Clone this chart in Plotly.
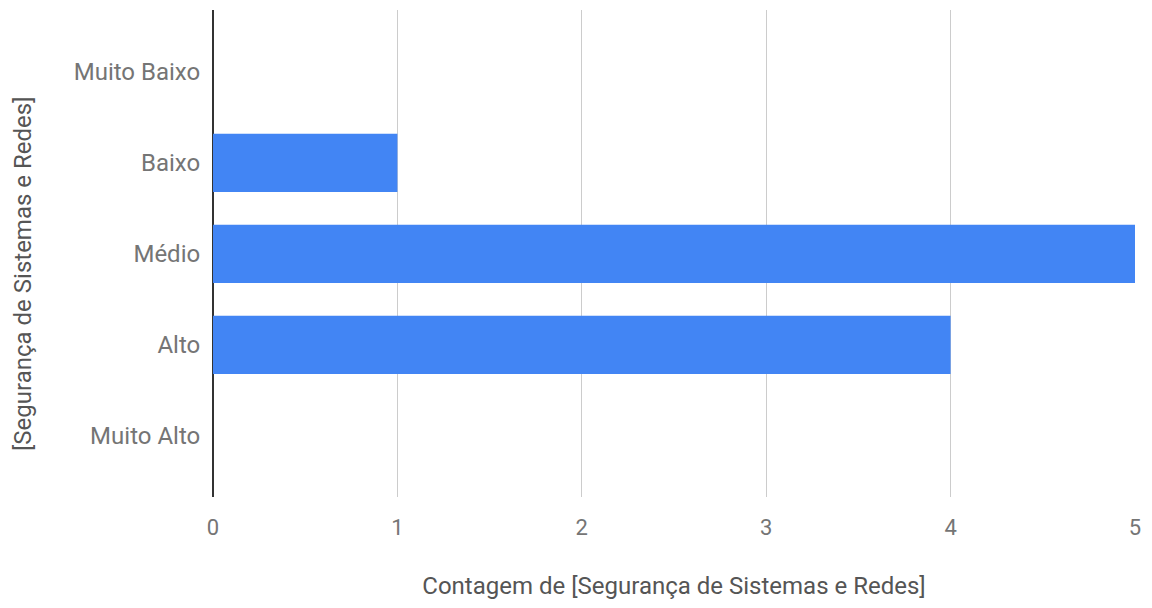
import plotly.graph_objects as go

categories = ["Muito Baixo", "Baixo", "Médio", "Alto", "Muito Alto"]
counts = [0, 1, 5, 4, 0]
x_ticks = [0, 1, 2, 3, 4, 5]

fig = go.Figure(go.Bar(
    y=categories, x=counts, orientation="h",
    marker=dict(color="#4285F4", line=dict(width=0)),
    width=0.64,
))

# plot area in figure coords (page body has 8px margin)
L, R, T, B = 205, 9, 2, 103
W, H = 1136, 592
pw, ph = W - L - R, H - T - B

fig.update_layout(
    width=W, height=H,
    margin=dict(l=L, r=R, t=T, b=B, autoexpand=False),
    paper_bgcolor="white", plot_bgcolor="white",
    font=dict(family="Roboto", color="#757575", size=22),
    showlegend=False,
)
fig.update_xaxes(
    range=[0, 5], tickvals=x_ticks,
    showgrid=True, gridcolor="#cccccc", gridwidth=1,
    zeroline=True, zerolinecolor="#333333", zerolinewidth=1.5,
    ticks="outside", ticklen=11, tickcolor="rgba(0,0,0,0)",
    tickfont=dict(size=22, color="#757575"),
    title=dict(text="Contagem de [Segurança de Sistemas e Redes]",
               font=dict(size=24, color="#555555"), standoff=42),
)
fig.update_yaxes(
    categoryorder="array", categoryarray=categories,
    range=[4.67, -0.68],
    showgrid=False, zeroline=False, showline=False,
    ticks="outside", ticklen=7, tickcolor="rgba(0,0,0,0)",
    tickfont=dict(size=24, color="#757575"),
)
fig.add_annotation(
    text="[Segurança de Sistemas e Redes]", textangle=-90,
    xref="paper", yref="paper",
    x=(15 - L) / pw, y=(H - B - (274 - 8)) / ph,
    xanchor="center", yanchor="middle", showarrow=False,
    font=dict(size=24, color="#555555"),
)

fig.write_html("out.html")
